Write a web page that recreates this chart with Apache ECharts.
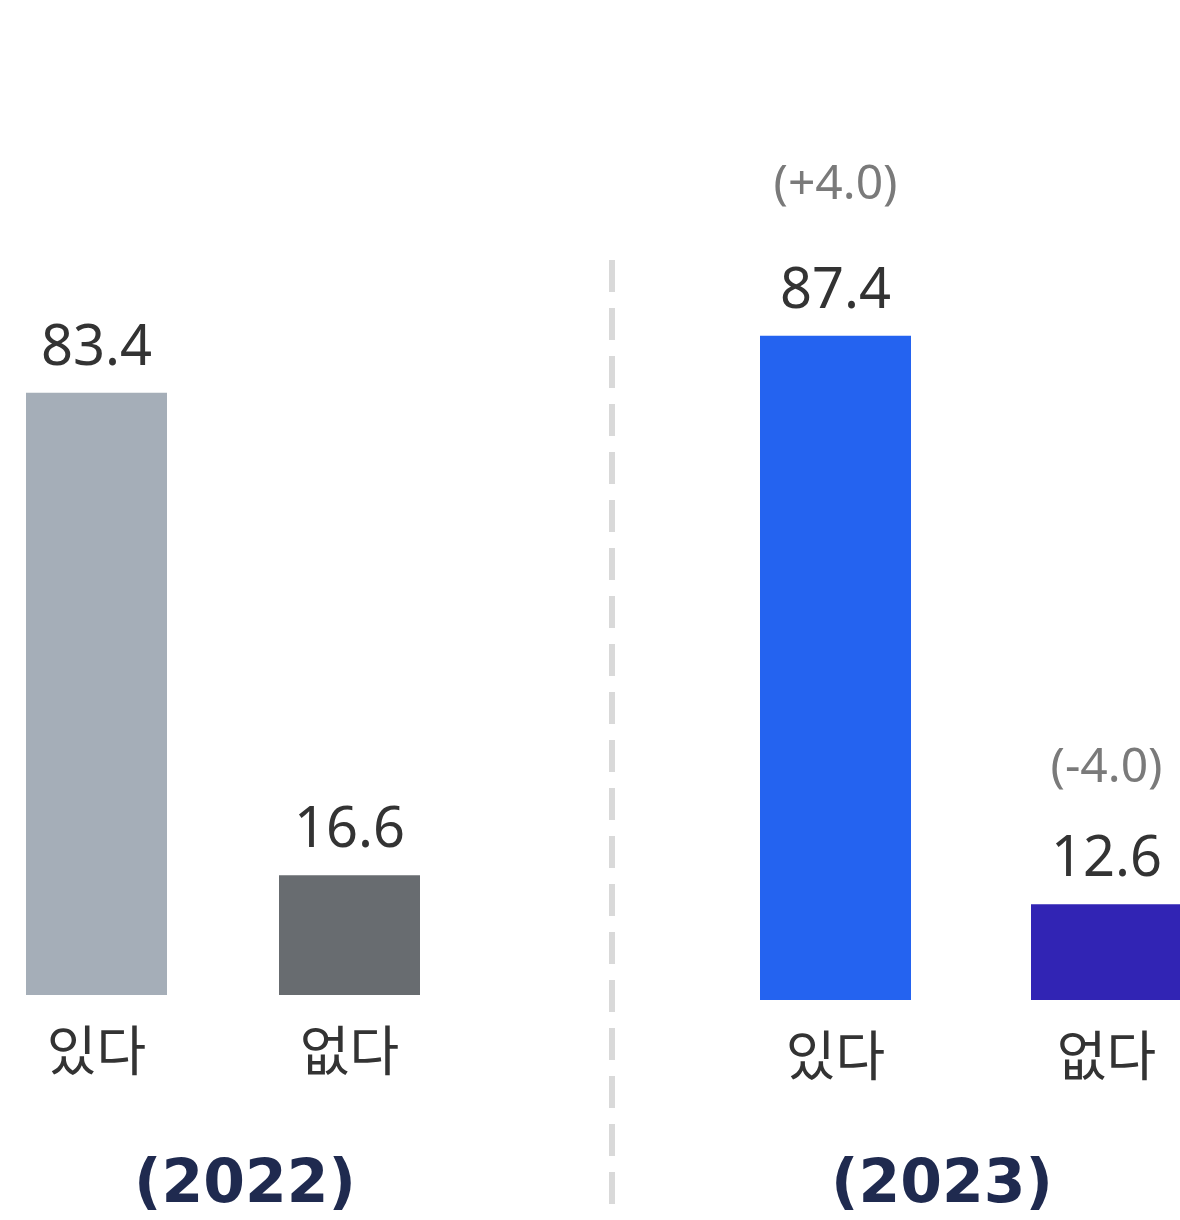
<!DOCTYPE html>
<html>
<head>
<meta charset="utf-8">
<script src="https://cdn.jsdelivr.net/npm/echarts@6/dist/echarts.min.js"></script>
<style>
  html, body { margin: 0; padding: 0; background: #fff; }
  #main { width: 1180px; height: 1220px; }
</style>
</head>
<body>
<div id="main"></div>
<script>
// data
var categories = ['있다', '없다'];
var years = ['(2022)', '(2023)'];
var values2022 = [83.4, 16.6];
var values2023 = [87.4, 12.6];
var delta2023 = ['(+4.0)', '(-4.0)'];

var colors2022 = ['#a5aeb8', '#686c70'];
var colors2023 = ['#2463f0', '#3124b4'];
// gap between the delta text and the value text, per bar
var deltaGap = [54, 40];

var font = '"Noto Sans", "Noto Sans CJK KR", sans-serif';

var chart = echarts.init(document.getElementById('main'));

var data2022 = values2022.map(function(v, i) {
	return { value: v, itemStyle: { color: colors2022[i] } };
});
var data2023 = values2023.map(function(v, i) {
	return {
		value: v,
		itemStyle: { color: colors2023[i] },
		label: {
			formatter: '{d|' + delta2023[i] + '}\n{g|}\n{v|{c}}',
			rich: {
				d: { fontSize: 48, lineHeight: 48, color: '#7a7a7a', fontFamily: font },
				g: { lineHeight: deltaGap[i], fontSize: 10 },
				v: { fontSize: 56, lineHeight: 56, color: '#333', fontFamily: font }
			}
		}
	};
});

function xAxis(idx) {
	return {
		type: 'category',
		gridIndex: idx,
		data: categories,
		axisLine: { show: false },
		axisTick: { show: false },
		axisLabel: {
			margin: 34,
			fontSize: 54,
			lineHeight: 54,
			color: '#333',
			fontFamily: font
		}
	};
}
function yAxis(idx) {
	return {
		type: 'value',
		gridIndex: idx,
		min: 0,
		max: 100,
		show: false,
		splitLine: { show: false }
	};
}

var option = {
	animation: false,
	grid: [
		{ left: -30, width: 506, top: 273, height: 722, outerBoundsMode: 'none', containLabel: false },
		{ left: 700, width: 542, top: 240, height: 760, outerBoundsMode: 'none', containLabel: false }
	],
	xAxis: [xAxis(0), xAxis(1)],
	yAxis: [yAxis(0), yAxis(1)],
	series: [
		{
			type: 'bar',
			xAxisIndex: 0,
			yAxisIndex: 0,
			barWidth: 141,
			data: data2022,
			label: {
				show: true,
				position: 'top',
				distance: 16,
				fontSize: 56,
				lineHeight: 56,
				color: '#333',
				fontFamily: font
			}
		},
		{
			type: 'bar',
			xAxisIndex: 1,
			yAxisIndex: 1,
			barWidth: 151,
			data: data2023,
			label: {
				show: true,
				position: 'top',
				distance: 16
			}
		}
	],
	graphic: [
		{
			type: 'line',
			shape: { x1: 612, y1: 260, x2: 612, y2: 1210 },
			style: { stroke: '#d9d9d9', lineWidth: 6, lineDash: [32, 16] }
		},
		{
			type: 'text',
			x: 245,
			y: 1186,
			style: {
				text: years[0],
				fill: '#1f2a4f',
				font: 'bold 60px "DejaVu Sans", sans-serif',
				textAlign: 'center',
				textVerticalAlign: 'middle'
			}
		},
		{
			type: 'text',
			x: 942,
			y: 1186,
			style: {
				text: years[1],
				fill: '#1f2a4f',
				font: 'bold 60px "DejaVu Sans", sans-serif',
				textAlign: 'center',
				textVerticalAlign: 'middle'
			}
		}
	]
};
chart.setOption(option);
</script>
</body>
</html>
